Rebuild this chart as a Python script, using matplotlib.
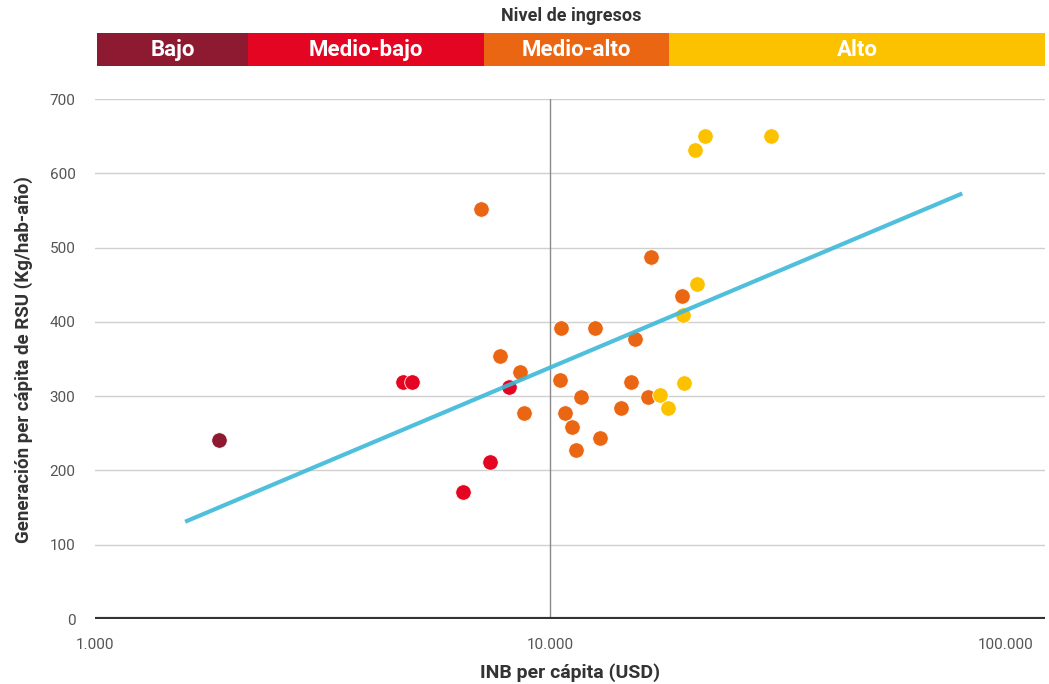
import numpy as np
import matplotlib.pyplot as plt
from matplotlib.ticker import FixedLocator, NullLocator

plt.rcParams['font.family'] = ['Roboto', 'DejaVu Sans']

# income groups: INB per capita (USD), RSU per capita (kg/hab-año)
bajo_x = [1873]
bajo_y = [241]

medio_bajo_x = [4754, 4976, 8128, 7379, 6443]
medio_bajo_y = [319, 319, 312, 211, 171]

medio_alto_x = [7048, 16670, 19500, 10570, 12560, 15380, 7760, 8590, 10520,
                11700, 15070, 16410, 8770, 10790, 14320, 11170, 12890, 11400]
medio_alto_y = [552, 487, 435, 392, 392, 377, 354, 332, 322,
                299, 319, 299, 277, 277, 284, 259, 244, 228]

alto_x = [21930, 20840, 30470, 21050, 19590, 19720, 17460, 18160]
alto_y = [650, 631, 650, 451, 409, 318, 301, 284]

trend_x = [1578, 80350]
trend_y = [131, 573]

band_names = ['Bajo', 'Medio-bajo', 'Medio-alto', 'Alto']
band_edges = [1000, 2150, 7120, 18170, 122000]
band_colors = ['#8E1A31', '#E30521', '#EB6612', '#FCC200']

xticks = [1000, 10000, 100000]
xtick_labels = ['1.000', '10.000', '100.000']
yticks = [0, 100, 200, 300, 400, 500, 600, 700]

fig = plt.figure(figsize=(10.49, 6.84), dpi=100)
ax = fig.add_axes([0.0905, 0.095, 0.9055, 0.760])

ax.set_xscale('log')
ax.set_xlim(band_edges[0], band_edges[-1])
ax.set_ylim(0, 700)

for y in yticks[1:]:
    ax.axhline(y, color='#d0d0d0', lw=1, zorder=0)
ax.axvline(10000, color='#8a8a8a', lw=1, zorder=0)
ax.axhline(0, color='#333333', lw=3, zorder=1)

groups = [(bajo_x, bajo_y), (medio_bajo_x, medio_bajo_y),
          (medio_alto_x, medio_alto_y), (alto_x, alto_y)]
for (gx, gy), c in zip(groups, band_colors):
    ax.scatter(gx, gy, s=125, color=c, edgecolors='white', linewidths=0.6, zorder=3)

ax.plot(trend_x, trend_y, color='#3DB8D8', lw=3, alpha=0.9, zorder=4,
        solid_capstyle='butt')

for s in ax.spines.values():
    s.set_visible(False)
ax.xaxis.set_major_locator(FixedLocator(xticks))
ax.xaxis.set_minor_locator(NullLocator())
ax.set_xticklabels(xtick_labels)
ax.set_yticks(yticks)
ax.tick_params(length=0, labelsize=11, labelcolor='#555555')
ax.tick_params(axis='x', pad=14)
ax.tick_params(axis='y', pad=14)
ax.set_xlabel('INB per cápita (USD)', fontsize=14, fontweight='bold',
              color='#333333', labelpad=8)
ax.set_ylabel('Generación per cápita de RSU (Kg/hab-año)', fontsize=13.5,
              fontweight='bold', color='#333333', labelpad=12)

# income level band on top
band = fig.add_axes([0.0925, 0.9035, 0.9035, 0.048])
band.set_xscale('log')
band.set_xlim(band_edges[0], band_edges[-1])
band.set_ylim(0, 1)
for i, name in enumerate(band_names):
    lo, hi = band_edges[i], band_edges[i + 1]
    band.axvspan(lo, hi, color=band_colors[i], lw=0)
    band.text(np.sqrt(lo * hi), 0.5, name, ha='center', va='center',
              color='white', fontsize=16, fontweight='bold')
band.axis('off')

fig.text(0.545, 0.976, 'Nivel de ingresos', ha='center', va='center',
         fontsize=13, fontweight='bold', color='#333333')

fig.savefig('out.png', dpi=100, facecolor='white')
